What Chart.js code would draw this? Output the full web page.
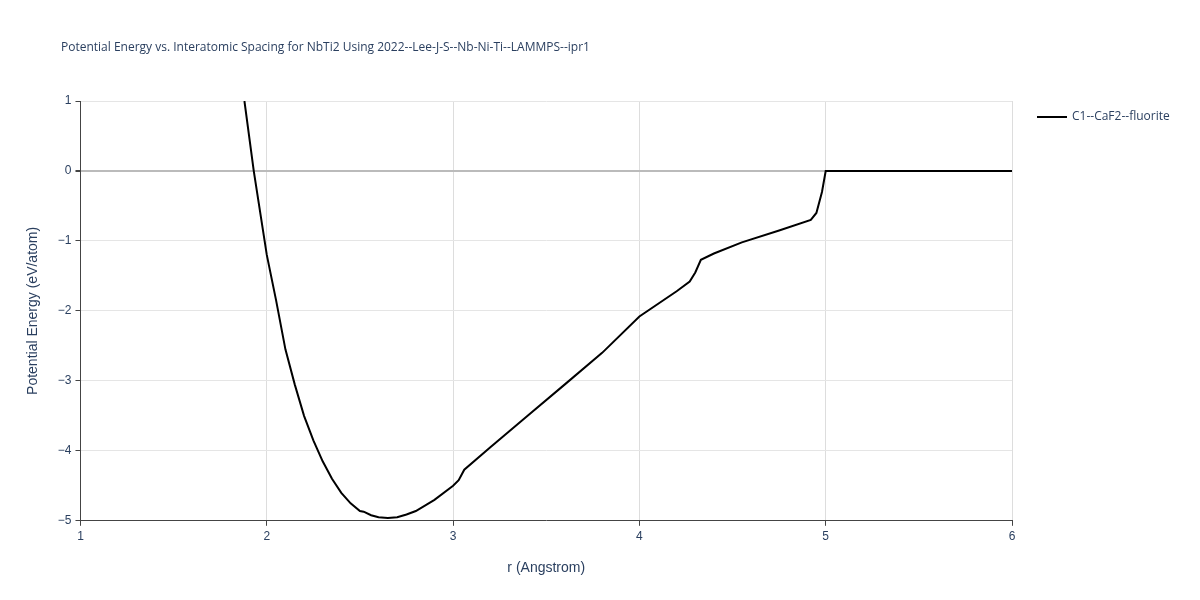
<!DOCTYPE html>
<html>
<head>
<meta charset="utf-8">
<script src="https://cdn.jsdelivr.net/npm/chart.js@4"></script>
<style>
  body { margin: 0; background: #fff; font-family: "Open Sans", sans-serif; }
  #wrap { position: relative; width: 1200px; height: 600px; }
  #title { position: absolute; left: 61px; top: 38px; font-size: 12px; color: #2a3f5f; }
  #legend { position: absolute; left: 1037px; top: 107px; font-size: 12px; color: #2a3f5f; }
  #legend span { display: inline-block; width: 30px; height: 2px; background: #000; vertical-align: middle; margin-right: 5px; }
</style>
</head>
<body>
<div id="wrap">
  <canvas id="c" width="1200" height="600"></canvas>
  <div id="title">Potential Energy vs. Interatomic Spacing for NbTi2 Using 2022--Lee-J-S--Nb-Ni-Ti--LAMMPS--ipr1</div>
  <div id="legend"><span></span>C1--CaF2--fluorite</div>
</div>
<script>
const rValues = [1.88, 1.93, 2.0, 2.05, 2.1, 2.15, 2.2, 2.25, 2.3, 2.35, 2.4, 2.45, 2.5, 2.52, 2.56, 2.6, 2.65, 2.7, 2.75, 2.8, 2.9, 3.0, 3.03, 3.06, 3.2, 3.4, 3.6, 3.8, 4.0, 4.2, 4.27, 4.3, 4.33, 4.4, 4.55, 4.75, 4.92, 4.95, 4.98, 5.0, 6.0];
const energyValues = [1.0, 0.0, -1.2, -1.85, -2.55, -3.05, -3.5, -3.85, -4.15, -4.4, -4.6, -4.75, -4.86, -4.87, -4.92, -4.95, -4.96, -4.95, -4.91, -4.86, -4.7, -4.5, -4.42, -4.27, -3.95, -3.5, -3.05, -2.6, -2.08, -1.72, -1.58, -1.45, -1.27, -1.18, -1.02, -0.85, -0.7, -0.6, -0.3, 0.0, 0.0];
const xTicks = [1, 2, 3, 4, 5, 6];
const yTicks = [1, 0, -1, -2, -3, -4, -5];

new Chart(document.getElementById('c'), {
  type: 'scatter',
  data: {
    datasets: [{
      data: rValues.map((r, i) => ({ x: r, y: energyValues[i] })),
      showLine: true,
      borderColor: '#000',
      borderWidth: 2,
      pointRadius: 0,
      tension: 0
    }]
  },
  options: {
    responsive: false,
    animation: false,
    layout: { padding: { left: 21, top: 101, right: 188, bottom: 19 } },
    plugins: { legend: { display: false }, tooltip: { enabled: false } },
    scales: {
      x: {
        type: 'linear', min: 1, max: 6,
        afterBuildTicks: ax => { ax.ticks = xTicks.map(v => ({ value: v })); },
        grid: { color: '#ddd', drawTicks: true, tickLength: 5, tickColor: '#444' },
        border: { color: '#444' },
        ticks: { color: '#2a3f5f', font: { size: 12 }, padding: 4 },
        title: { display: true, text: 'r (Angstrom)', color: '#2a3f5f', font: { size: 14 }, padding: { top: 12 } }
      },
      y: {
        type: 'linear', min: -5, max: 1,
        afterBuildTicks: ax => { ax.ticks = yTicks.map(v => ({ value: v })); },
        grid: {
          color: ctx => ctx.tick && ctx.tick.value === 0 ? '#bbb' : '#e5e5e5',
          lineWidth: ctx => ctx.tick && ctx.tick.value === 0 ? 2 : 1,
          tickLength: 5, tickColor: '#444'
        },
        border: { color: '#444' },
        ticks: { color: '#2a3f5f', font: { size: 12 }, padding: 4, callback: v => v < 0 ? '\u2212' + Math.abs(v) : v },
        title: { display: true, text: 'Potential Energy (eV/atom)', color: '#2a3f5f', font: { size: 14 }, padding: { bottom: 12 } }
      }
    }
  }
});
</script>
</body>
</html>
